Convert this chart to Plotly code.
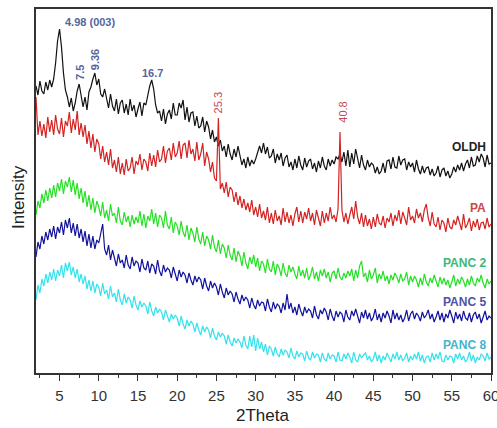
import numpy as np
import plotly.graph_objects as go

# 2Theta grid (degrees), 0.25 step
two_theta = np.round(np.arange(2.0, 60.0001, 0.25), 2)

oldh = [
287,278,292,282, 279,291,283,293, 286,294,310,332, 344,326,300,283,
276,266,275,262, 270,282,289,275, 266,276,263,281, 286,294,300,288,
294,279,276,284, 274,265,279,267, 262,274,259,270, 273,260,269,258,
274,262,268,256, 264,271,257,270, 268,278,287,293, 284,268,260,262,
252,264,249,259, 263,254,270,258, 258,270,265,273, 253,266,251,260,
261,247,257,245, 247,256,241,252, 246,234,243,231, 236,227,233,222,
227,216,229,219, 213,224,216,227, 219,208,214,205, 216,207,213,209,
214,222,227,220, 230,219,226,215, 217,224,210,219, 213,220,207,215,
218,206,211,203, 214,205,217,208, 203,215,206,212, 214,204,210,201,
212,205,216,207, 203,214,207,213, 209,216,214,219, 211,221,207,223,
206,220,209,224, 214,205,218,208, 203,213,206,210, 208,200,206,199,
202,210,200,212, 213,204,216,206, 205,217,208,213, 214,203,211,206,
210,201,213,204, 199,207,200,205, 206,198,204,197, 200,207,196,203,
205,197,202,195, 199,206,201,208, 203,210,202,209, 213,205,216,207,
208,217,211,219, 215,206,218,209, 210]

pa = [
276,238,252,237, 249,235,256,241, 253,238,258,244, 239,255,236,252,
247,261,240,254, 243,262,238,250, 236,248,229,242, 225,239,221,234,
229,214,227,211, 221,208,224,205, 213,201,216,199, 210,198,214,202,
205,216,199,212, 208,219,203,214, 211,202,220,207, 218,206,223,211,
214,227,210,222, 225,213,230,216, 220,232,214,228, 230,215,233,219,
224,212,231,213, 219,230,207,221, 214,201,211,195, 192,255,184,190,
180,191,176,186, 183,171,181,168, 177,165,174,163, 170,161,173,158,
166,156,169,155, 162,153,166,150, 160,149,163,152, 157,148,165,151,
161,150,158,147, 159,166,151,162, 150,161,154,165, 152,160,148,163,
155,147,162,150, 160,152,166,154, 158,151,164,241, 163,151,160,149,
158,166,154,172, 156,149,160,146, 158,147,154,144, 156,146,159,150,
148,157,145,155, 151,160,147,158, 152,163,149,161, 155,148,166,153,
157,150,164,155, 160,151,163,169, 155,147,161,149, 146,156,143,153,
150,141,155,146, 144,153,148,157, 150,143,159,145, 149,155,142,152,
146,154,143,150, 151,144,155,146, 149]

panc2 = [
158,172,165,179, 170,183,172,185, 175,188,176,190, 182,194,179,192,
186,196,181,193, 178,190,174,185, 170,182,166,178, 163,175,160,172,
166,157,171,155, 163,152,169,157, 160,150,166,152, 148,161,151,157,
146,158,149,156, 150,162,147,159, 145,157,152,164, 149,160,146,158,
155,145,162,148, 144,156,140,151, 147,138,152,141, 136,148,133,145,
140,131,146,134, 129,141,127,137, 133,124,138,126, 121,133,119,129,
125,115,128,118, 113,125,111,122, 117,107,121,110, 104,116,109,118,
106,115,102,112, 109,100,114,104, 101,112,98,109, 105,97,110,100,
96,108,101,106, 99,94,107,97, 103,95,105,93, 98,106,94,101,
92,103,97,104, 95,101,91,100, 102,94,105,96, 93,100,95,102,
97,104,92,103, 95,107,112,96, 100,91,103,94, 98,105,90,99,
94,102,92,97, 89,98,93,100, 96,90,99,92, 94,101,88,97,
91,97,93,86, 95,88,99,91, 87,95,90,98, 92,86,96,89,
95,88,93,85, 91,98,87,94, 89,96,92,86, 94,88,97,90,
87,95,91,98, 90,85,94,89, 92]

panc5 = [
116,131,124,137, 129,141,133,144, 136,147,134,146, 140,151,138,153,
145,155,140,150, 137,149,135,144, 131,142,127,139, 125,137,124,133,
130,138,149,124, 118,128,113,123, 115,107,119,110, 113,105,118,108,
104,116,107,112, 110,101,114,105, 103,112,100,109, 107,99,113,102,
97,108,101,105, 103,95,106,98, 92,103,96,101, 98,90,100,93,
88,97,91,96, 93,84,95,87, 82,92,85,90, 86,78,89,81,
75,85,78,82, 79,71,81,74, 69,78,72,76, 73,65,75,68,
64,73,67,71, 70,62,74,66, 61,71,64,69, 67,60,70,63,
79,64,70,60, 66,58,69,62, 57,66,60,64, 62,55,67,58,
54,63,59,65, 61,53,64,57, 52,62,56,61, 59,51,63,56,
53,62,57,64, 58,50,61,55, 63,54,60,52, 56,64,53,59,
51,60,55,62, 57,50,63,54, 60,53,58,51, 55,63,52,59,
62,54,60,57, 52,61,55,58, 63,54,59,51, 56,62,53,60,
51,59,55,63, 57,50,61,54, 59,52,62,55, 53,60,51,58,
61,54,59,50, 56,62,53,57, 55]

panc8 = [
73,88,80,94, 87,99,90,101, 93,104,92,103, 97,108,95,110,
102,111,98,106, 95,104,91,99, 89,97,84,93, 82,92,80,89,
86,77,90,79, 83,74,87,76, 80,71,84,73, 68,79,70,76,
73,65,77,68, 63,72,66,70, 67,59,71,62, 57,66,60,64,
61,53,63,56, 51,59,54,58, 55,47,57,49, 44,53,47,52,
49,41,50,43, 38,47,41,46, 43,35,45,37, 33,41,36,40,
37,29,38,31, 27,35,30,34, 31,25,37,28, 24,37,26,38,
22,35,24,31, 21,29,18,27, 24,17,26,19, 16,24,18,23,
21,15,25,17, 14,22,16,20, 19,12,22,15, 13,21,15,19,
18,11,20,14, 12,20,14,18, 17,11,21,13, 12,19,14,20,
16,10,21,13, 11,19,15,18, 20,13,17,11, 14,21,12,18,
10,17,13,20, 15,11,19,14, 21,13,18,12, 15,20,11,17,
13,19,14,21, 12,18,10,16, 17,11,20,13, 19,14,21,12,
11,18,13,17, 16,10,19,14, 20,13,17,11, 14,21,12,18,
10,16,13,19, 17,12,20,14, 16]

series_names = ["OLDH", "PA", "PANC 2", "PANC 5", "PANC 8"]
series_values = [oldh, pa, panc2, panc5, panc8]
line_colors = ["#111111", "#d42222", "#26e026", "#12129c", "#34e2ec"]
label_colors = ["#222222", "#c94a46", "#3cb878", "#4e52a8", "#44b4cc"]
label_y = [226, 165, 110, 71, 28]

peak_labels = ["<b>4.98 (003)</b>", "<b>7.5</b>", "<b>9.36</b>", "<b>16.7</b>", "25.3", "40.8"]
peak_x = [5.5, 7.6, 9.55, 16.8, 25.25, 41.1]
peak_y = [351, 301, 313, 300, 270, 261]
peak_angle = [0, -90, -90, 0, -90, -90]
peak_colors = ["#56659e", "#56659e", "#56659e", "#56659e", "#c44848", "#c44848"]
peak_anchor = ["left", "center", "center", "center", "center", "center"]

fig = go.Figure()
for name, vals, col in zip(series_names, series_values, line_colors):
    fig.add_trace(go.Scatter(x=two_theta, y=vals, mode="lines", name=name,
                             line=dict(color=col, width=1.2), showlegend=False))

for name, ly, lc in zip(series_names, label_y, label_colors):
    fig.add_annotation(x=59.6, y=ly, text="<b>%s</b>" % name, showarrow=False,
                       xanchor="right", yanchor="middle",
                       font=dict(family="Liberation Sans, Arial", size=12, color=lc))

for t, px, py, ang, c, anc in zip(peak_labels, peak_x, peak_y, peak_angle, peak_colors, peak_anchor):
    fig.add_annotation(x=px, y=py, text=t, showarrow=False, textangle=ang,
                       xanchor=anc, yanchor="middle",
                       font=dict(family="Liberation Sans, Arial", size=11, color=c))

fig.add_annotation(xref="paper", yref="paper", x=-0.04, y=0.483, text="Intensity",
                   showarrow=False, textangle=-90, xanchor="center", yanchor="middle",
                   font=dict(family="Liberation Sans, Arial", size=17, color="#222"))
fig.add_annotation(xref="paper", yref="paper", x=0.497, y=-0.118, text="2Theta",
                   showarrow=False, xanchor="center", yanchor="middle",
                   font=dict(family="Liberation Sans, Arial", size=17, color="#222"))

fig.update_layout(
    width=497, height=428,
    margin=dict(l=36, r=6, t=9, b=55, autoexpand=False),
    paper_bgcolor="white", plot_bgcolor="white",
    xaxis=dict(range=[2, 60], tickvals=list(range(5, 61, 5)), ticks="outside",
               ticklen=6, tickwidth=1.2, tickcolor="#333", ticklabelstandoff=2,
               ticklabeloverflow="allow", automargin=False,
               minor=dict(dtick=2.5, tick0=0, ticks="outside", ticklen=3, tickcolor="#333"),
               showline=True, linecolor="#333", linewidth=1.5, mirror=True,
               showgrid=False, zeroline=False,
               tickfont=dict(family="Liberation Sans, Arial", size=15, color="#333")),
    yaxis=dict(range=[0, 364], showticklabels=False, ticks="", automargin=False,
               showline=True, linecolor="#333", linewidth=1.5, mirror=True,
               showgrid=False, zeroline=False),
)

fig.write_html("out.html", config={"displayModeBar": False},
               post_script="document.body.style.margin='0';document.body.style.overflow='hidden';")
